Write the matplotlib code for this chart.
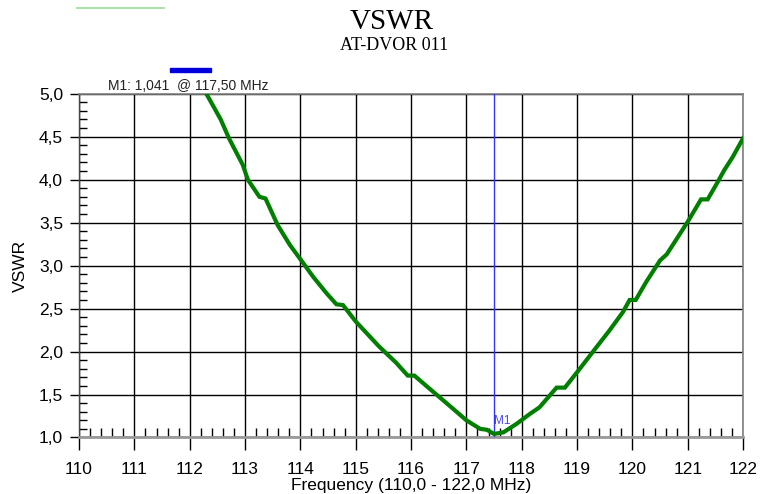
import numpy as np
import matplotlib.pyplot as plt
from matplotlib.ticker import FuncFormatter, MultipleLocator
from matplotlib.lines import Line2D
from matplotlib.patches import Rectangle

# sweep (MHz, VSWR)
freq = [112.30, 112.56, 112.71, 112.96, 113.05, 113.26, 113.37, 113.59, 113.81,
        114.05, 114.23, 114.47, 114.65, 114.77, 115.00, 115.42, 115.73, 115.94,
        116.06, 116.33, 116.64, 117.00, 117.25, 117.37, 117.50, 117.67, 117.91,
        118.16, 118.32, 118.63, 118.78, 119.05, 119.35, 119.58, 119.83, 119.95,
        120.06, 120.25, 120.50, 120.62, 121.00, 121.24, 121.36, 121.54, 121.66,
        121.81, 122.00]
vswr = [5.00, 4.70, 4.48, 4.17, 4.00, 3.80, 3.78, 3.47, 3.24,
        3.03, 2.87, 2.68, 2.55, 2.54, 2.35, 2.06, 1.87, 1.72,
        1.72, 1.57, 1.40, 1.20, 1.10, 1.09, 1.041, 1.06, 1.16,
        1.28, 1.35, 1.58, 1.58, 1.80, 2.05, 2.24, 2.46, 2.60,
        2.60, 2.81, 3.06, 3.13, 3.51, 3.77, 3.77, 3.97, 4.11,
        4.26, 4.48]

marker_f = 117.50
marker_v = 1.041
x_ticks = list(range(110, 123))
y_ticks = [1.0, 1.5, 2.0, 2.5, 3.0, 3.5, 4.0, 4.5, 5.0]

plt.rcParams['font.family'] = ['Liberation Sans', 'DejaVu Sans']

fig = plt.figure(figsize=(7.6, 4.94), dpi=100)
ax = fig.add_axes([0.1040, 0.1144, 0.8737, 0.696])

ax.plot(freq, vswr, color='#007f00', lw=3.0, solid_joinstyle='miter', zorder=4)
ax.axvline(marker_f, color='#3333ff', lw=1.0, zorder=3)
ax.text(marker_f, marker_v + 0.08, 'M1', color='#4444ff', fontsize=8.5,
        ha='left', va='bottom', zorder=5)

ax.set_xlim(110, 122)
ax.set_ylim(1.0, 5.0)
ax.set_xticks(x_ticks)
ax.set_yticks(y_ticks)
ax.xaxis.set_minor_locator(MultipleLocator(0.2))
ax.yaxis.set_minor_locator(MultipleLocator(0.1))
ax.yaxis.set_major_formatter(FuncFormatter(lambda v, p: ('%.1f' % v).replace('.', ',')))

ax.grid(True, which='major', color='black', lw=1.0)
ax.tick_params(axis='x', which='major', direction='out', length=9, width=1,
               pad=8.5, labelsize=12.5, colors='black')
ax.tick_params(axis='y', which='major', direction='out', length=6.5, width=1,
               pad=5, labelsize=12.5, colors='black')
ax.tick_params(axis='x', which='minor', direction='in', length=6.5, width=1,
               top=False, bottom=True)
ax.tick_params(axis='y', which='minor', direction='in', length=5.5, width=1,
               left=True, right=False)

for s in ['top', 'right']:
    ax.spines[s].set_color('#808080')
    ax.spines[s].set_linewidth(1.2)
ax.spines['bottom'].set_color('#999999')
ax.spines['bottom'].set_linewidth(2.0)
ax.spines['left'].set_color('#444444')
ax.spines['left'].set_linewidth(1.0)

ax.set_xlabel('Frequency (110,0 - 122,0 MHz)', fontsize=12.5, labelpad=1)
ax.set_ylabel('VSWR', fontsize=12.5, labelpad=8)

fig.text(0.515, 0.955, 'VSWR', family='Liberation Serif', fontsize=21,
         ha='center', va='center')
fig.text(0.518, 0.907, 'AT-DVOR 011', family='Liberation Serif', fontsize=13,
         ha='center', va='center')
fig.text(0.142, 0.826, 'M1: 1,041  @ 117,50 MHz', fontsize=10,
         ha='left', va='center', color='#222222')

# legend remnants at the top of the screenshot
fig.add_artist(Line2D([0.101, 0.216], [0.984, 0.984], color='#99dd99', lw=1.2))
fig.add_artist(Rectangle((0.224, 0.854), 0.054, 0.009, color='#0000dd'))

fig.savefig('out.png', dpi=100)
